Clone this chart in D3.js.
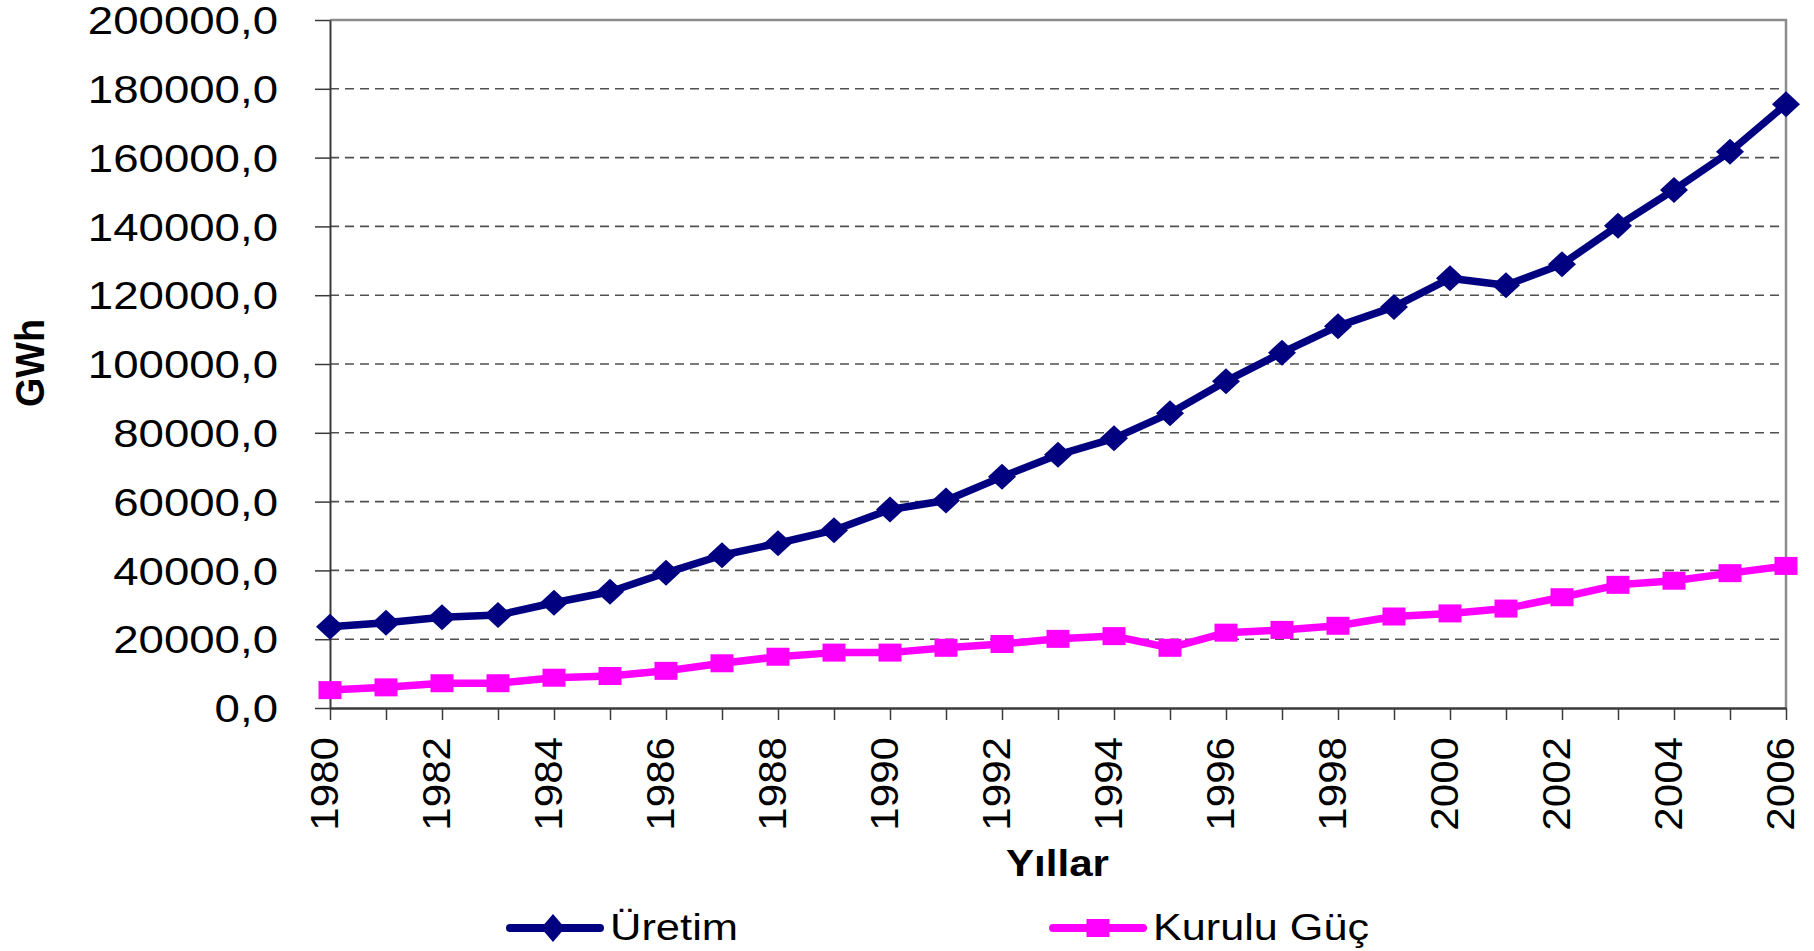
<!DOCTYPE html>
<html>
<head>
<meta charset="utf-8">
<script src="https://cdn.jsdelivr.net/npm/d3@7"></script>
<style>
  html, body { margin: 0; padding: 0; background: #fff; }
  svg { display: block; font-family: 'Liberation Sans', Arial, sans-serif; }
</style>
</head>
<body>
<svg id="chart"></svg>
<script>
// values
const years = [1980, 1981, 1982, 1983, 1984, 1985, 1986, 1987, 1988, 1989, 1990, 1991, 1992, 1993,
  1994, 1995, 1996, 1997, 1998, 1999, 2000, 2001, 2002, 2003, 2004, 2005, 2006]
const uretim = [23600, 24800, 26400, 27000, 30600, 33800, 39300, 44400, 47900, 51700, 57700, 60300, 67200, 73600,
  78400, 85700, 95000, 103300, 111000, 116600, 124900, 122900, 129000, 140200, 150600, 161700, 175500]
const kuruluGuc = [5200, 6000, 7200, 7200, 8800, 9300, 10800, 13000, 14900, 16100, 16100, 17500, 18600, 20100,
  20900, 17500, 21900, 22700, 23900, 26600, 27500, 28900, 32200, 35800, 37000, 39200, 41300]
const yTicks = [0, 20000, 40000, 60000, 80000, 100000, 120000, 140000, 160000, 180000, 200000]
const seriesNames = ['Üretim', 'Kurulu Güç']
const seriesColors = ['#000080', '#ff00ff']

const width = 1814
const height = 951
const margin = { top: 20, left: 330, right: 28, bottom: 243 }
const plotW = width - margin.left - margin.right
const plotH = height - margin.top - margin.bottom

const svg = d3.select('#chart')
  .attr('width', width)
  .attr('height', height)

const g = svg.append('g')
  .attr('transform', 'translate(' + margin.left + ',' + margin.top + ')')

const x = d3.scaleLinear().domain([years[0], years[years.length - 1]]).range([0, plotW])
const y = d3.scaleLinear().domain([0, 200000]).range([plotH, 0])

const trFormat = d3.formatLocale({ decimal: ',', thousands: '', grouping: [3], currency: ['', ''] }).format('.1f')

// dashed gridlines
g.selectAll('.grid')
  .data(yTicks.filter(d => d > 0 && d < 200000))
  .enter()
  .append('line')
  .attr('class', 'grid')
  .attr('x1', 0)
  .attr('x2', plotW)
  .attr('y1', d => y(d))
  .attr('y2', d => y(d))
  .attr('stroke', '#505050')
  .attr('stroke-width', 1.6)
  .attr('stroke-dasharray', '9,6')

// top and right border
g.append('path')
  .attr('d', 'M0,0H' + plotW + 'V' + plotH)
  .attr('fill', 'none')
  .attr('stroke', '#8c8c8c')
  .attr('stroke-width', 2.5)

// y axis
const yAxis = g.append('g')
  .call(d3.axisLeft(y).tickValues(yTicks).tickSize(15).tickSizeOuter(0).tickFormat(trFormat))
yAxis.select('.domain').attr('stroke', '#3a3a3a').attr('stroke-width', 2)
yAxis.selectAll('.tick line').attr('stroke', '#3a3a3a').attr('stroke-width', 1.5)
yAxis.selectAll('.tick text')
  .attr('x', -52 / 1.2)
  .attr('dy', '0.36em')
  .attr('transform', 'scale(1.2,1)')
  .attr('font-size', 38)
  .attr('font-family', "'Liberation Sans', Arial, sans-serif")
  .attr('fill', '#000')

// x axis
const xAxis = g.append('g')
  .attr('transform', 'translate(0,' + plotH + ')')
  .call(d3.axisBottom(x).tickValues(years).tickSize(12).tickSizeOuter(0)
    .tickFormat(d => (d % 2 === 0 ? d : '')))
xAxis.select('.domain').attr('stroke', '#3a3a3a').attr('stroke-width', 2.5)
xAxis.selectAll('.tick line').attr('stroke', '#3a3a3a').attr('stroke-width', 1.5)
xAxis.selectAll('.tick text')
  .attr('x', 0)
  .attr('y', 0)
  .attr('dy', 0)
  .attr('text-anchor', 'end')
  .attr('transform', 'translate(7,29) rotate(-90) scale(1.08,1)')
  .attr('font-size', 39)
  .attr('font-family', "'Liberation Sans', Arial, sans-serif")
  .attr('fill', '#000')

// lines
const seriesData = [uretim, kuruluGuc]
const line = d3.line()
  .x((d, i) => x(years[i]))
  .y(d => y(d))

g.selectAll('.series')
  .data(seriesData)
  .enter()
  .append('path')
  .attr('class', 'series')
  .attr('d', d => line(d))
  .attr('fill', 'none')
  .attr('stroke', (d, i) => seriesColors[i])
  .attr('stroke-width', 7.5)
  .attr('stroke-linejoin', 'round')

const diamond = (w, h) => 'M0,' + (-h) + 'L' + w + ',0L0,' + h + 'L' + (-w) + ',0Z'

g.selectAll('.dia')
  .data(uretim)
  .enter()
  .append('path')
  .attr('class', 'dia')
  .attr('d', diamond(14, 13))
  .attr('transform', (d, i) => 'translate(' + x(years[i]) + ',' + y(d) + ')')
  .attr('fill', seriesColors[0])

g.selectAll('.sq')
  .data(kuruluGuc)
  .enter()
  .append('rect')
  .attr('class', 'sq')
  .attr('x', (d, i) => x(years[i]) - 11.5)
  .attr('y', d => y(d) - 9)
  .attr('width', 23)
  .attr('height', 18)
  .attr('fill', seriesColors[1])

// axis titles
svg.append('text')
  .text('Yıllar')
  .attr('x', 1006)
  .attr('y', 876)
  .attr('font-size', 37)
  .attr('font-weight', 'bold')
  .attr('textLength', 103)
  .attr('lengthAdjust', 'spacingAndGlyphs')

svg.append('text')
  .text('GWh')
  .attr('transform', 'translate(44,407) rotate(-90)')
  .attr('font-size', 40)
  .attr('font-weight', 'bold')
  .attr('textLength', 88)
  .attr('lengthAdjust', 'spacingAndGlyphs')

// legend
const legendX = [510, 1053]
const legendLen = [128, 216]
const legend = svg.selectAll('.legend')
  .data(seriesNames)
  .enter()
  .append('g')
  .attr('class', 'legend')
  .attr('transform', (d, i) => 'translate(' + legendX[i] + ',928)')

legend.append('line')
  .attr('x1', 0)
  .attr('x2', 90)
  .attr('stroke', (d, i) => seriesColors[i])
  .attr('stroke-width', 8)
  .attr('stroke-linecap', 'round')

legend.filter((d, i) => i === 0)
  .append('path')
  .attr('d', diamond(12, 14))
  .attr('transform', 'translate(43,0)')
  .attr('fill', seriesColors[0])

legend.filter((d, i) => i === 1)
  .append('rect')
  .attr('x', 45 - 11.5)
  .attr('y', -9)
  .attr('width', 23)
  .attr('height', 18)
  .attr('fill', seriesColors[1])

legend.append('text')
  .text(d => d)
  .attr('x', 100)
  .attr('y', 12)
  .attr('font-size', 36)
  .attr('textLength', (d, i) => legendLen[i])
  .attr('lengthAdjust', 'spacingAndGlyphs')
</script>
</body>
</html>
